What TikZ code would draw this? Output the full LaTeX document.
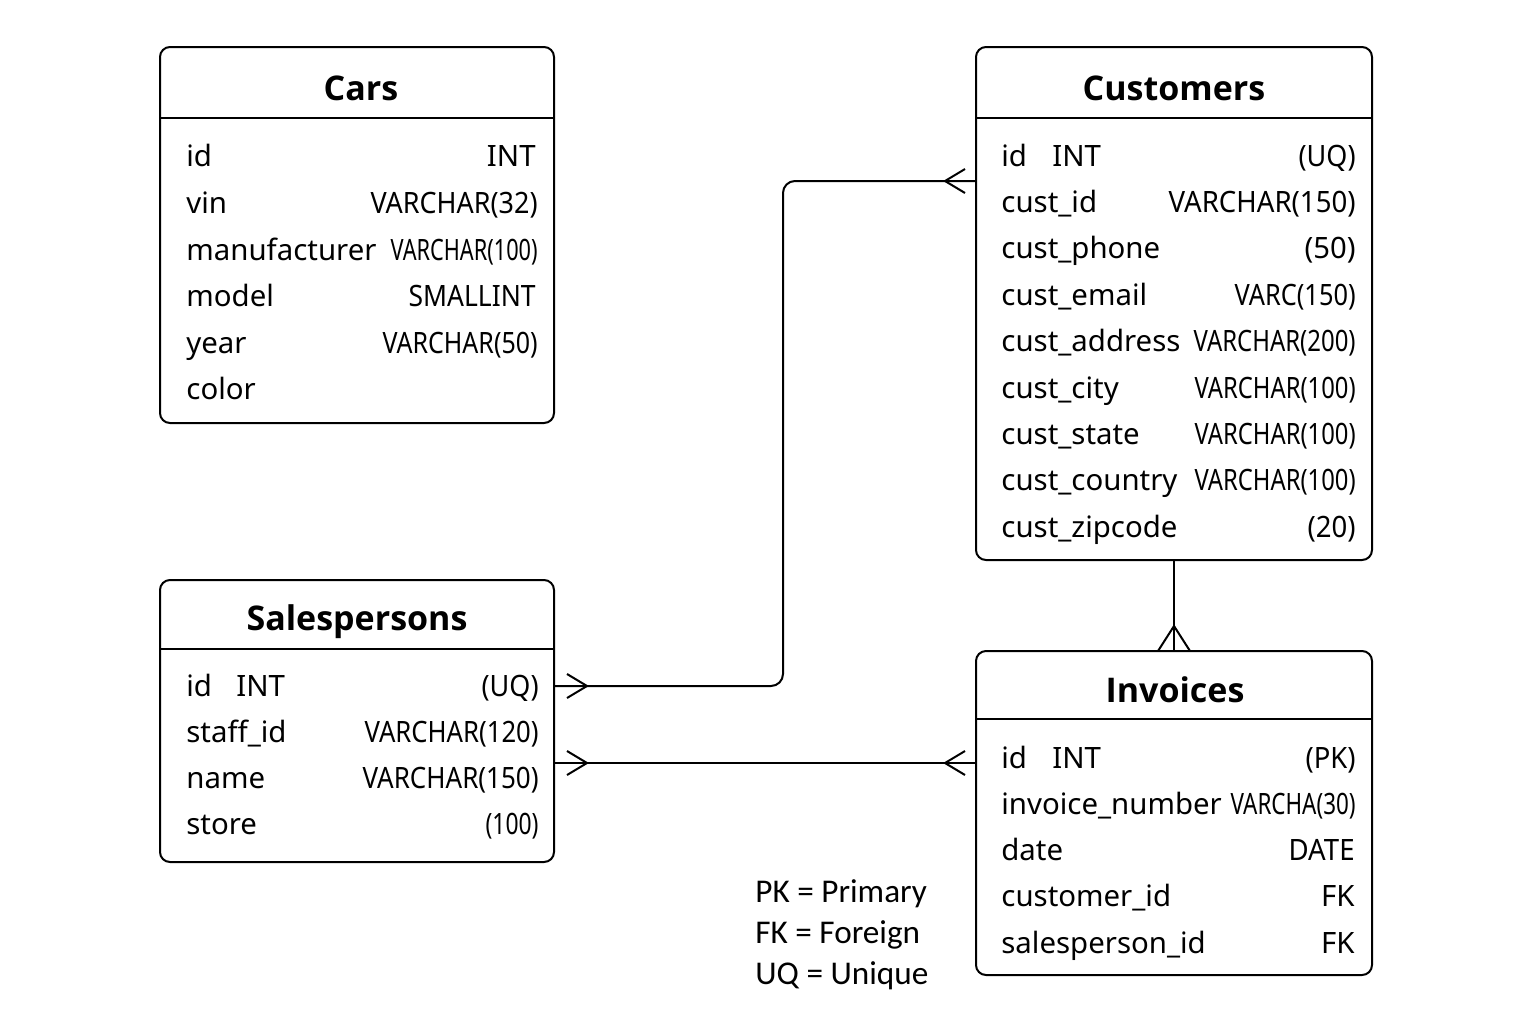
\documentclass[tikz,border=0pt]{standalone}
\usepackage{fontspec}
\setmainfont{Noto Sans}
\newfontfamily\legfont{Carlito}
\newfontfamily\ttlfont{Open Sans}[BoldFont={* Bold}]
\usetikzlibrary{calc}
\tikzset{
  tbl/.style={draw, line width=1pt, rounded corners=5pt, inner sep=0pt, outer sep=0pt, anchor=north west},
  ttl/.style={font=\ttlfont\bfseries\fontsize{17}{20}\selectfont, anchor=base, inner sep=0pt},
  fld/.style={font=\fontsize{14.7}{17}\selectfont, anchor=base west, inner sep=0pt},
  typ/.style={font=\fontsize{14.7}{17}\selectfont, anchor=base east, inner sep=0pt},
  leg/.style={font=\legfont\fontsize{16.6}{19}\selectfont, anchor=base west, inner sep=0pt},
  divl/.style={line width=1pt},
  conn/.style={line width=1pt, rounded corners=6pt},
  crow/.style={line width=1pt}
}
\newcommand\ty[2]{\resizebox{#1pt}{\height}{#2}}
\begin{document}
\begin{tikzpicture}[x=0.5pt,y=-0.5pt]
\fill[white] (0,0) rectangle (1536,1024);
\useasboundingbox (0,0) rectangle (1536,1024);

% ---------- Cars ----------
\node[tbl, minimum width=197pt, minimum height=188pt] (cars) at (160,47) {};
\draw[divl] ($(cars.north west)+(0,71)$) -- ($(cars.north east)+(0,71)$);
\node[ttl] (carsT) at (361,100) {Cars};
\node[fld] (cars1) at (186,166) {id};
\node[fld] (cars2) at (186,213) {vin};
\node[fld] (cars3) at (186,260) {manufacturer};
\node[fld] (cars4) at (186,306) {model};
\node[fld] (cars5) at (186,353) {year};
\node[fld] (cars6) at (186,399) {color};
\node[typ] (carsy1) at (536,166) {INT};
\node[typ] (carsy2) at (538,213) {\ty{83.5}{VARCHAR(32)}};
\node[typ] (carsy3) at (538,260) {\ty{73.5}{VARCHAR(100)}};
\node[typ] (carsy4) at (536,306) {\ty{63.5}{SMALLINT}};
\node[typ] (carsy5) at (538,353) {\ty{77.5}{VARCHAR(50)}};

% ---------- Customers ----------
\node[tbl, minimum width=198pt, minimum height=256.5pt] (cust) at (976,47) {};
\draw[divl] ($(cust.north west)+(0,71)$) -- ($(cust.north east)+(0,71)$);
\node[ttl] (custT) at (1174,100) {Customers};
\node[fld] (cust1) at (1001,166) {id};
\node[fld] (cust1b) at (1052,166) {INT};
\node[fld] (cust2) at (1001,212.5) {cust\_id};
\node[fld] (cust3) at (1001,258.9) {cust\_phone};
\node[fld] (cust4) at (1001,305.3) {cust\_email};
\node[fld] (cust5) at (1001,351.7) {cust\_address};
\node[fld] (cust6) at (1001,398.1) {cust\_city};
\node[fld] (cust7) at (1001,444.5) {cust\_state};
\node[fld] (cust8) at (1001,490.9) {cust\_country};
\node[fld] (cust9) at (1001,537.3) {cust\_zipcode};
\node[typ] (custy1) at (1356,166) {\ty{28.5}{(UQ)}};
\node[typ] (custy2) at (1356,212.5) {\ty{93.5}{VARCHAR(150)}};
\node[typ] (custy3) at (1356,258.9) {\ty{25.5}{(50)}};
\node[typ] (custy4) at (1356,305.3) {\ty{60.5}{VARC(150)}};
\node[typ] (custy5) at (1356,351.7) {\ty{81}{VARCHAR(200)}};
\node[typ] (custy6) at (1356,398.1) {\ty{80.5}{VARCHAR(100)}};
\node[typ] (custy7) at (1356,444.5) {\ty{80.5}{VARCHAR(100)}};
\node[typ] (custy8) at (1356,490.9) {\ty{80.5}{VARCHAR(100)}};
\node[typ] (custy9) at (1356,537.3) {\ty{24}{(20)}};

% ---------- Salespersons ----------
\node[tbl, minimum width=197pt, minimum height=141pt] (sales) at (160,580) {};
\draw[divl] ($(sales.north west)+(0,69)$) -- ($(sales.north east)+(0,69)$);
\node[ttl] (salesT) at (357,630) {Salespersons};
\node[fld] (sales1) at (186,696) {id};
\node[fld] (sales1b) at (236,696) {INT};
\node[fld] (sales2) at (186,742.5) {staff\_id};
\node[fld] (sales3) at (186,788.5) {name};
\node[fld] (sales4) at (186,834.5) {store};
\node[typ] (salesy1) at (539,696) {\ty{28.5}{(UQ)}};
\node[typ] (salesy2) at (539,742.5) {\ty{87}{VARCHAR(120)}};
\node[typ] (salesy3) at (539,788.5) {\ty{88}{VARCHAR(150)}};
\node[typ] (salesy4) at (539,834.5) {\ty{26.5}{(100)}};

% ---------- Invoices ----------
\node[tbl, minimum width=198pt, minimum height=162pt] (inv) at (976,651) {};
\draw[divl] ($(inv.north west)+(0,68)$) -- ($(inv.north east)+(0,68)$);
\node[ttl] (invT) at (1175,702) {Invoices};
\node[fld] (inv1) at (1001,768) {id};
\node[fld] (inv1b) at (1052,768) {INT};
\node[fld] (inv2) at (1001,814.3) {invoice\_number};
\node[fld] (inv3) at (1001,860.6) {date};
\node[fld] (inv4) at (1001,906.9) {customer\_id};
\node[fld] (inv5) at (1001,953.2) {salesperson\_id};
\node[typ] (invy1) at (1356,768) {\ty{25}{(PK)}};
\node[typ] (invy2) at (1356,814.3) {\ty{62.5}{VARCHA(30)}};
\node[typ] (invy3) at (1355,860.6) {\ty{33}{DATE}};
\node[typ] (invy4) at (1355,906.9) {FK};
\node[typ] (invy5) at (1355,953.2) {FK};

% ---------- Legend ----------
\node[leg] (leg1) at (755,902) {PK = Primary};
\node[leg] (leg2) at (755,943) {FK = Foreign};
\node[leg] (leg3) at (755,984) {UQ = Unique};

% ---------- Connectors ----------
\coordinate (bend) at (783,0);
\coordinate (cA) at ($(cust.north west)+(0,134)$);
\coordinate (sA) at ($(sales.north east)+(0,106)$);
\coordinate (sB) at ($(sales.north east)+(0,183)$);
\coordinate (iB) at ($(inv.north west)+(0,112)$);

\draw[conn] (cA) -- (cA -| bend) -- (sA -| bend) -- (sA);
\draw[crow] ($(cA)+(-11,-12)$) -- ($(cA)+(-31,0)$) -- ($(cA)+(-11,12)$);
\draw[crow] ($(sA)+(13,-12)$) -- ($(sA)+(33,0)$) -- ($(sA)+(13,12)$);

\draw[conn] (sB) -- (iB);
\draw[crow] ($(sB)+(13,-12)$) -- ($(sB)+(33,0)$) -- ($(sB)+(13,12)$);
\draw[crow] ($(iB)+(-11,-12)$) -- ($(iB)+(-31,0)$) -- ($(iB)+(-11,12)$);

\draw[conn] (cust.south) -- (inv.north);
\draw[crow] ($(inv.north)+(-16,0)$) -- ($(inv.north)+(0,-25)$) -- ($(inv.north)+(16,0)$);
\end{tikzpicture}
\end{document}
